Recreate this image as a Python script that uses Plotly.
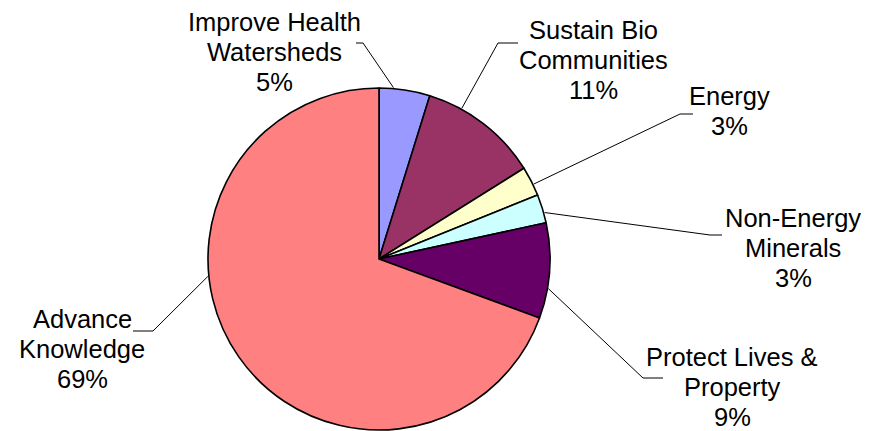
import math
import plotly.graph_objects as go

# ---- data ----
categories = ["Improve Health|Watersheds", "Sustain Bio|Communities", "Energy",
              "Non-Energy|Minerals", "Protect Lives &|Property", "Advance|Knowledge"]
values = [4.8, 11.3, 2.8, 2.7, 9.0, 69.4]
colors = ["#9999FF", "#993366", "#FFFFCC", "#CCFFFF", "#660066", "#FF8080"]

# page body has an 8px margin; lay out in window pixels and convert
OFF = 8
W, H = 869 - OFF, 431 - OFF
CX, CY, R = 379, 259, 171
FS = 25.5
LINE = 30


def px(x):
    return (x - OFF) / W


def py(y):
    return 1 - (y - OFF) / H


def on_rim(p):
    dx, dy = p[0] - CX, p[1] - CY
    d = math.hypot(dx, dy)
    return (CX + dx / d * (R + 1), CY + dy / d * (R + 1))


fig = go.Figure(go.Pie(
    labels=[c.replace("|", " ") for c in categories],
    values=values,
    sort=False,
    direction="clockwise",
    rotation=0,
    marker=dict(colors=colors, line=dict(color="black", width=1.6)),
    textinfo="none",
    hoverinfo="label+percent",
    domain=dict(x=[px(CX - R), px(CX + R)], y=[py(CY + R), py(CY - R)]),
    showlegend=False,
))

# label anchor: (x center, first baseline) in window px; leader paths in window px
label_pos = [(274, 32), (593, 40), (729, 106), (793, 228), (732, 367), (82, 329)]
leaders = [
    [(356, 43), (363, 43), (393, 93)],
    [(518, 43), (498, 43), (462, 108)],
    [(693, 114), (680, 114), (538, 182)],
    [(722, 235), (710, 235), (550, 211)],
    [(663, 378), (643, 378), (556, 290)],
    [(133, 331), (153, 331), (202, 277)],
]

total = sum(values)
annotations = []
for cat, v, (x, y0) in zip(categories, values, label_pos):
    pct = round(v / total * 100)
    lines = cat.split("|") + [f"{pct}%"]
    for i, line in enumerate(lines):
        base = y0 + i * LINE
        annotations.append(dict(
            x=px(x), y=py(base - 10), xref="paper", yref="paper",
            text=line, showarrow=False,
            xanchor="center", yanchor="middle", align="center",
            font=dict(family="Arial, Liberation Sans, sans-serif", size=FS, color="black"),
        ))

shapes = []
for pts in leaders:
    pts = pts[:-1] + [on_rim(pts[-1])]
    path = "M " + " L ".join(f"{px(a)},{py(b)}" for a, b in pts)
    shapes.append(dict(type="path", path=path, xref="paper", yref="paper",
                       line=dict(color="black", width=1)))

fig.update_layout(
    width=W, height=H,
    margin=dict(l=0, r=0, t=0, b=0),
    paper_bgcolor="white", plot_bgcolor="white",
    annotations=annotations,
    shapes=shapes,
)

fig.write_html("out.html")
